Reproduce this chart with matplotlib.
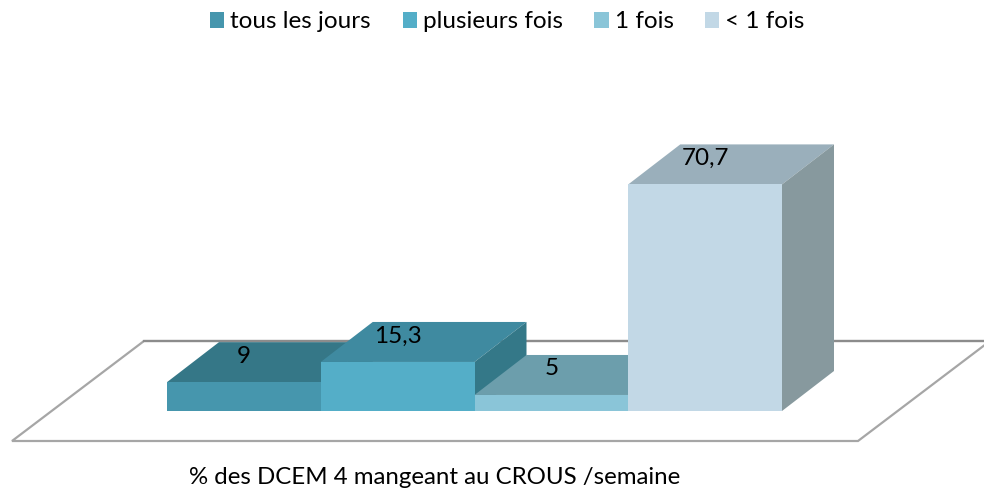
import numpy as np
import matplotlib.pyplot as plt
from matplotlib.patches import Polygon, Patch

categories = ["tous les jours", "plusieurs fois", "1 fois", "< 1 fois"]
values = [9, 15.3, 5, 70.7]
value_labels = ["9", "15,3", "5", "70,7"]
front_colors = ["#4696AD", "#54AEC8", "#8AC5D8", "#C2D8E6"]
top_colors = ["#357787", "#3F8AA0", "#6C9EAC", "#9AAFBB"]
side_colors = ["#2F6F7E", "#347888", "#5F8D99", "#87999E"]
xlabel = "% des DCEM 4 mangeant au CROUS /semaine"

W, H = 984, 491
PX_X = 153.75  # pixels per category
PX_Y = 3.205  # pixels per percent
X0, Y0 = 167, 411  # pixel position of the chart origin
DX, DY = 52 / PX_X, 40 / PX_Y  # 3d depth offset in data units


def fx(p):
    return (p - X0) / PX_X


def fy(p):
    return (Y0 - p) / PX_Y


plt.rcParams["font.family"] = ["Lato", "DejaVu Sans"]
fig = plt.figure(figsize=(W / 100, H / 100), dpi=100)
ax = fig.add_axes([0, 0, 1, 1])
ax.set_xlim(fx(0), fx(W))
ax.set_ylim(fy(H), fy(0))
ax.axis("off")

# floor
floor = [(12, 441), (858, 441), (990, 341), (144, 341)]
ax.add_patch(Polygon([(fx(a), fy(b)) for a, b in floor], closed=True, facecolor="white",
                     edgecolor="#A6A6A6", linewidth=1.6, joinstyle="miter", zorder=1))
ax.plot([fx(144), fx(984)], [fy(341), fy(341)], color="#8C8C8C", linewidth=1.6, zorder=1.5)

# bars, left to right so each one hides the side of the previous one
for i, v in enumerate(values):
    z = 2 + i
    ax.add_patch(Polygon([(i, v), (i + 1, v), (i + 1 + DX, v + DY), (i + DX, v + DY)],
                         closed=True, facecolor=top_colors[i], edgecolor="none", zorder=z))
    ax.add_patch(Polygon([(i + 1, 0), (i + 1 + DX, DY), (i + 1 + DX, v + DY), (i + 1, v)],
                         closed=True, facecolor=side_colors[i], edgecolor="none", zorder=z))
    ax.bar(i + 0.5, v, width=1, color=front_colors[i], linewidth=0, zorder=z + 0.1)

for i, v in enumerate(values):
    ax.text(i + 0.5, v + 26 / PX_Y, value_labels[i], ha="center", va="center",
            fontsize=17.5, color="black", zorder=10)

ax.text(fx(435), fy(478), xlabel, ha="center", va="center", fontsize=17.3, color="black", zorder=10)

handles = [Patch(facecolor=c, edgecolor="none", label=l) for c, l in zip(front_colors, categories)]
fig.legend(handles=handles, loc="center", bbox_to_anchor=(507.5 / W, 1 - 22 / H), ncol=4, frameon=False,
           fontsize=17.5, handlelength=0.58, handleheight=0.62, handletextpad=0.25,
           columnspacing=1.3, borderpad=0)

fig.savefig("out.png", dpi=100)
